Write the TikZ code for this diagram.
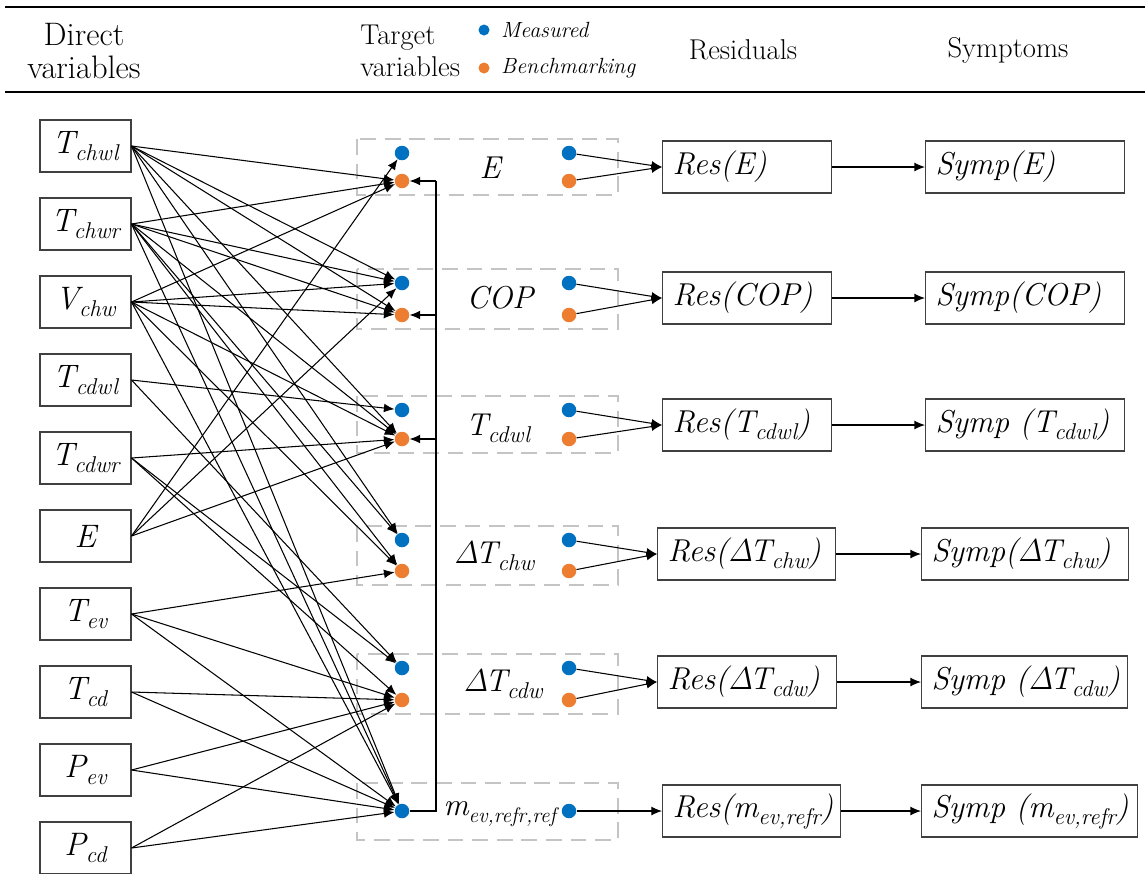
\documentclass[tikz,border=0pt]{standalone}
\usepackage{fontspec}
\usetikzlibrary{arrows.meta,positioning}

\definecolor{measblue}{HTML}{0070C0}
\definecolor{benchorange}{HTML}{ED7D31}
\definecolor{dashgray}{HTML}{C4C4C4}

% lowered subscript in text
\newcommand{\sbs}[1]{\raisebox{-4pt}{\fontsize{13}{13}\selectfont #1}}
\newcommand{\dlt}{Δ\kern-0.12em}

\tikzset{
  varbox/.style={draw=black!75, line width=0.6pt, minimum width=1.82cm, minimum height=1.04cm,
    inner sep=0pt, font=\fontsize{18.5}{18.5}\selectfont\itshape},
  resbox/.style={draw=black!75, line width=0.6pt, minimum height=1.04cm, inner xsep=0.2cm,
    align=left, anchor=west, font=\fontsize{18}{18}\selectfont\itshape},
  tlabel/.style={inner sep=0pt, font=\fontsize{18}{18}\selectfont\itshape},
  hdr/.style={inner sep=0pt, font=\fontsize{16.3}{18}\selectfont},
  legtxt/.style={inner sep=0pt, anchor=west, font=\fontsize{12.5}{12.5}\selectfont\itshape},
  mdot/.style={circle, fill=measblue, inner sep=0pt, minimum size=0.29cm},
  bdot/.style={circle, fill=benchorange, inner sep=0pt, minimum size=0.29cm},
  grpbox/.style={draw=dashgray, dash pattern=on 9pt off 5pt, line width=1.2pt},
  link/.style={-{Latex[length=6pt,width=5pt]}, line width=0.6pt},
}

\begin{document}
\begin{tikzpicture}[x=0.02cm, y=-0.02cm]
\useasboundingbox (0,0) rectangle (1145,873);

% header
\draw[line width=1.6pt] (5,7) -- (1145,7);
\draw[line width=1.6pt] (5,92) -- (1145,92);
\node[hdr, align=center, font=\fontsize{18.5}{18.5}\selectfont] (hdDirect) at (84,51) {Direct\\variables};
\node[hdr, align=left, anchor=west] (hdTarget) at (360,51) {Target\\variables};
\node[mdot, minimum size=0.22cm] (legM) at (484,30) {};
\node[bdot, minimum size=0.22cm] (legB) at (484,68) {};
\node[legtxt, right=0.22cm of legM] (legMtxt) {Measured};
\node[legtxt, right=0.22cm of legB] (legBtxt) {Benchmarking};
\node[hdr] (hdRes) at (743,50) {Residuals};
\node[hdr] (hdSym) at (1008,50) {Symptoms};

% direct variables
\node[varbox] (inTchwl) at (85.5,146) {T\sbs{chwl}};
\node[varbox] (inTchwr) at (85.5,224) {T\sbs{chwr}};
\node[varbox] (inVchw)  at (85.5,302) {V\sbs{chw}};
\node[varbox] (inTcdwl) at (85.5,380) {T\sbs{cdwl}};
\node[varbox] (inTcdwr) at (85.5,458) {T\sbs{cdwr}};
\node[varbox] (inE)     at (85.5,536) {E};
\node[varbox] (inTev)   at (85.5,614) {T\sbs{ev}};
\node[varbox] (inTcd)   at (85.5,692) {T\sbs{cd}};
\node[varbox] (inPev)   at (85.5,770) {P\sbs{ev}};
\node[varbox] (inPcd)   at (85.5,848) {P\sbs{cd}};

% target variables
\foreach \g/\yb/\yo in {E/153/181, COP/283/315, Tcdwl/410/439, dTchw/540/571, dTcdw/668/700}{
  \draw[grpbox] (357,\yb-14) rectangle (618,\yo+14);
  \node[mdot] (\g m)  at (402,\yb) {};
  \node[bdot] (\g b)  at (402,\yo) {};
  \node[mdot] (\g mo) at (569,\yb) {};
  \node[bdot] (\g bo) at (569,\yo) {};
}
\draw[grpbox] (357,783) rectangle (618,840);
\node[mdot] (mm)  at (402,811) {};
\node[mdot] (mmo) at (569,811) {};

\node[tlabel] (labE)     at (490,168) {E};
\node[tlabel] (labCOP)   at (500,298) {COP};
\node[tlabel] (labTcdwl) at (498,428) {T\sbs{cdwl}};
\node[tlabel] (labdTchw) at (494,556) {\dlt T\sbs{chw}};
\node[tlabel] (labdTcdw) at (503,684) {\dlt T\sbs{cdw}};
\node[tlabel, anchor=west] (labm) at (443,814)
  {m\raisebox{-4pt}{\fontsize{12}{12}\selectfont ev,refr,ref}};

% residuals and symptoms
\node[resbox, text width=2.98cm] (resE)     at (662,167) {\mbox{Res(E)}};
\node[resbox, text width=2.98cm] (resCOP)   at (662,298) {\mbox{Res(COP)}};
\node[resbox, text width=2.98cm] (resTcdwl) at (662,425) {\mbox{Res(T\sbs{cdwl})}};
\node[resbox, text width=3.16cm] (resdTchw) at (657,554) {\mbox{Res(\dlt T\sbs{chw})}};
\node[resbox, text width=3.18cm] (resdTcdw) at (657,682) {\mbox{Res(\dlt T\sbs{cdw})}};
\node[resbox, text width=3.16cm] (resm)     at (662,811) {\mbox{Res(m\sbs{ev,refr})}};

\node[resbox, text width=3.58cm] (symE)     at (925,167) {\mbox{Symp(E)}};
\node[resbox, text width=3.58cm] (symCOP)   at (925,298) {\mbox{Symp(COP)}};
\node[resbox, text width=3.58cm] (symTcdwl) at (925,425) {\mbox{Symp (T\sbs{cdwl})}};
\node[resbox, text width=3.74cm] (symdTchw) at (921,554) {\mbox{Symp(\dlt T\sbs{chw})}};
\node[resbox, text width=3.72cm] (symdTcdw) at (921,682) {\mbox{Symp (\dlt T\sbs{cdw})}};
\node[resbox, text width=3.92cm] (symm)     at (921,811) {\mbox{Symp (m\sbs{ev,refr})}};

% direct -> target
\foreach \s/\t in {inTchwl/Eb, inTchwl/COPm, inTchwl/COPb, inTchwl/Tcdwlb, inTchwl/dTchwm, inTchwl/mm,
                   inTchwr/Eb, inTchwr/COPm, inTchwr/COPb, inTchwr/Tcdwlb, inTchwr/dTchwm, inTchwr/dTchwb, inTchwr/mm,
                   inVchw/Eb, inVchw/COPm, inVchw/COPb, inVchw/Tcdwlb, inVchw/dTchwb, inVchw/mm,
                   inTcdwl/Tcdwlm, inTcdwl/dTcdwm,
                   inTcdwr/Tcdwlb, inTcdwr/dTcdwm, inTcdwr/dTcdwb,
                   inE/Em, inE/COPm, inE/Tcdwlb,
                   inTev/dTchwb, inTev/dTcdwb, inTev/mm,
                   inTcd/dTcdwb, inTcd/mm,
                   inPev/dTcdwb, inPev/mm,
                   inPcd/dTcdwb, inPcd/mm}
  \draw[link] (\s.east) -- (\t);

% feedback of the reference mass flow
\coordinate (fbot) at (436,811);
\draw[line width=0.6pt] (mm) -- (fbot) -- (fbot |- Eb);
\foreach \g in {E,COP,Tcdwl}
  \draw[link] (fbot |- \g b) -- (\g b);

% target -> residual -> symptom
\foreach \g in {E,COP,Tcdwl,dTchw,dTcdw}{
  \draw[link] (\g mo) -- (res\g.west);
  \draw[link] (\g bo) -- (res\g.west);
}
\draw[link] (mmo) -- (resm);
\foreach \g in {E,COP,Tcdwl,dTchw,dTcdw,m}
  \draw[link] (res\g) -- (sym\g);

\end{tikzpicture}
\end{document}
